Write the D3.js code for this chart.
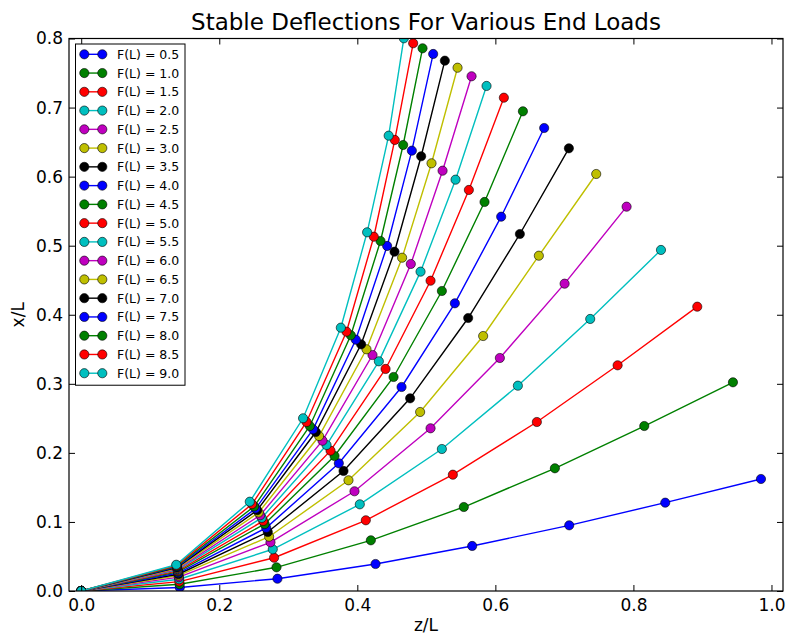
<!DOCTYPE html>
<html>
<head>
<meta charset="utf-8">
<script src="https://cdn.jsdelivr.net/npm/d3@7"></script>
<style>
  html, body { margin: 0; padding: 0; background: #ffffff; }
  svg { display: block; font-family: "DejaVu Sans", sans-serif; }
</style>
</head>
<body>
<svg id="chart" width="792" height="637"></svg>
<script>
// End loads F(L), one curve per load
const loads = [0.5, 1.0, 1.5, 2.0, 2.5, 3.0, 3.5, 4.0, 4.5, 5.0, 5.5, 6.0, 6.5, 7.0, 7.5, 8.0, 8.5, 9.0];

// z/L of the 8 nodes along the beam, one row per load
const zNodes = [
  [0, 0.1428, 0.2843, 0.4264, 0.5664, 0.7070, 0.8461, 0.9848],
  [0, 0.1426, 0.2829, 0.4196, 0.5543, 0.6862, 0.8157, 0.9442],
  [0, 0.1422, 0.2794, 0.4123, 0.5384, 0.6601, 0.7771, 0.8925],
  [0, 0.1419, 0.2775, 0.4036, 0.5225, 0.6326, 0.7374, 0.8399],
  [0, 0.1415, 0.2742, 0.3959, 0.5061, 0.6065, 0.7003, 0.7901],
  [0, 0.1411, 0.2722, 0.3872, 0.4910, 0.5823, 0.6630, 0.7461],
  [0, 0.1408, 0.2703, 0.3800, 0.4765, 0.5606, 0.6355, 0.7065],
  [0, 0.1405, 0.2680, 0.3732, 0.4641, 0.5413, 0.6084, 0.6707],
  [0, 0.1402, 0.2658, 0.3670, 0.4525, 0.5225, 0.5843, 0.6399],
  [0, 0.1399, 0.2637, 0.3612, 0.4409, 0.5061, 0.5616, 0.6123],
  [0, 0.1396, 0.2615, 0.3554, 0.4312, 0.4916, 0.5423, 0.5872],
  [0, 0.1393, 0.2593, 0.3496, 0.4220, 0.4775, 0.5235, 0.5655],
  [0, 0.1390, 0.2571, 0.3446, 0.4133, 0.4649, 0.5075, 0.5452],
  [0, 0.1388, 0.2549, 0.3399, 0.4055, 0.4539, 0.4925, 0.5268],
  [0, 0.1386, 0.2527, 0.3359, 0.3978, 0.4432, 0.4790, 0.5099],
  [0, 0.1383, 0.2505, 0.3312, 0.3906, 0.4336, 0.4664, 0.4945],
  [0, 0.1380, 0.2475, 0.3264, 0.3843, 0.4239, 0.4543, 0.4809],
  [0, 0.1377, 0.2442, 0.3214, 0.3761, 0.4142, 0.4454, 0.4674]
];

// x/L deflection of the same nodes
const xNodes = [
  [0, 0.0051, 0.0178, 0.0391, 0.0652, 0.0951, 0.1279, 0.1622],
  [0, 0.0097, 0.0343, 0.0734, 0.1216, 0.1777, 0.2389, 0.3022],
  [0, 0.0136, 0.0482, 0.1024, 0.1684, 0.2447, 0.3268, 0.4117],
  [0, 0.0171, 0.0604, 0.1255, 0.2056, 0.2973, 0.3939, 0.4938],
  [0, 0.0200, 0.0705, 0.1444, 0.2356, 0.3374, 0.4450, 0.5565],
  [0, 0.0223, 0.0786, 0.1603, 0.2592, 0.3692, 0.4855, 0.6038],
  [0, 0.0243, 0.0854, 0.1738, 0.2790, 0.3953, 0.5169, 0.6410],
  [0, 0.0260, 0.0914, 0.1849, 0.2954, 0.4166, 0.5420, 0.6704],
  [0, 0.0277, 0.0970, 0.1955, 0.3099, 0.4344, 0.5633, 0.6946],
  [0, 0.0291, 0.1014, 0.2032, 0.3215, 0.4493, 0.5807, 0.7143],
  [0, 0.0305, 0.1059, 0.2114, 0.3326, 0.4624, 0.5956, 0.7313],
  [0, 0.0317, 0.1097, 0.2176, 0.3417, 0.4735, 0.6086, 0.7453],
  [0, 0.0329, 0.1136, 0.2244, 0.3500, 0.4826, 0.6193, 0.7577],
  [0, 0.0340, 0.1170, 0.2302, 0.3572, 0.4913, 0.6295, 0.7679],
  [0, 0.0348, 0.1194, 0.2341, 0.3639, 0.4996, 0.6376, 0.7776],
  [0, 0.0358, 0.1224, 0.2389, 0.3703, 0.5068, 0.6458, 0.7858],
  [0, 0.0369, 0.1258, 0.2447, 0.3755, 0.5130, 0.6531, 0.7931],
  [0, 0.0380, 0.1293, 0.2501, 0.3813, 0.5194, 0.6593, 0.8003]
];

const xTicks = [0.0, 0.2, 0.4, 0.6, 0.8, 1.0];
const yTicks = [0.0, 0.1, 0.2, 0.3, 0.4, 0.5, 0.6, 0.7, 0.8];
const palette = ["#0000ff", "#008000", "#ff0000", "#00bfbf", "#bf00bf", "#bfbf00", "#000000"];

const svg = d3.select("#chart");
const plot = { left: 69, top: 38.5, right: 783, bottom: 591 };

const x = d3.scaleLinear().domain([-0.0177, 1.0167]).range([plot.left, plot.right]);
const y = d3.scaleLinear().domain([0, 0.8]).range([plot.bottom, plot.top]);
const color = i => palette[i % palette.length];

svg.append("defs").append("clipPath").attr("id", "plot-clip")
  .append("rect")
  .attr("x", plot.left).attr("y", plot.top)
  .attr("width", plot.right - plot.left).attr("height", plot.bottom - plot.top);

// Curves: each load draws its line, then its node markers
const layer = svg.append("g").attr("clip-path", "url(#plot-clip)");
const line = d3.line().x(d => x(d[0])).y(d => y(d[1]));

loads.forEach((F, i) => {
  const pts = zNodes[i].map((z, k) => [z, xNodes[i][k]]);
  const g = layer.append("g");
  g.append("path")
    .attr("d", line(pts))
    .attr("fill", "none")
    .attr("stroke", color(i))
    .attr("stroke-width", 1.4);
  g.selectAll("circle").data(pts).enter().append("circle")
    .attr("cx", d => x(d[0]))
    .attr("cy", d => y(d[1]))
    .attr("r", 4.6)
    .attr("fill", color(i))
    .attr("stroke", "#000")
    .attr("stroke-width", 0.6);
});

// Axes with inward ticks on all four sides
const tickLen = 6;
const axisBottom = d3.axisBottom(x).tickValues(xTicks).tickFormat(d3.format(".1f"))
  .tickSizeInner(-tickLen).tickSizeOuter(0).tickPadding(8);
const axisTop = d3.axisTop(x).tickValues(xTicks).tickFormat("")
  .tickSizeInner(-tickLen).tickSizeOuter(0);
const axisLeft = d3.axisLeft(y).tickValues(yTicks).tickFormat(d3.format(".1f"))
  .tickSizeInner(-tickLen).tickSizeOuter(0).tickPadding(6);
const axisRight = d3.axisRight(y).tickValues(yTicks).tickFormat("")
  .tickSizeInner(-tickLen).tickSizeOuter(0);

function styleAxis(g) {
  g.select(".domain").remove();
  g.selectAll(".tick line").attr("stroke", "#000").attr("stroke-width", 1);
  g.selectAll(".tick text").attr("fill", "#000")
    .style("font-family", "'DejaVu Sans', sans-serif").style("font-size", "17px");
}

svg.append("g").attr("transform", `translate(0,${plot.bottom})`).call(axisBottom).call(styleAxis);
svg.append("g").attr("transform", `translate(0,${plot.top})`).call(axisTop).call(styleAxis);
svg.append("g").attr("transform", `translate(${plot.left},0)`).call(axisLeft).call(styleAxis);
svg.append("g").attr("transform", `translate(${plot.right},0)`).call(axisRight).call(styleAxis);

// Frame
svg.append("rect")
  .attr("x", plot.left).attr("y", plot.top)
  .attr("width", plot.right - plot.left).attr("height", plot.bottom - plot.top)
  .attr("fill", "none").attr("stroke", "#000").attr("stroke-width", 1.2);

// Title and axis labels
const cx = (plot.left + plot.right) / 2;
svg.append("text").attr("x", cx).attr("y", 30)
  .attr("text-anchor", "middle").style("font-size", "23px")
  .text("Stable Deflections For Various End Loads");
svg.append("text").attr("x", cx).attr("y", 631)
  .attr("text-anchor", "middle").style("font-size", "17px")
  .text("z/L");
svg.append("text")
  .attr("transform", `translate(24,${(plot.top + plot.bottom) / 2}) rotate(-90)`)
  .attr("text-anchor", "middle").style("font-size", "17px")
  .text("x/L");

// Legend
const legend = svg.append("g");
const lg = { left: 75.5, top: 44, width: 109.5, rowH: 18.76, firstRow: 54.3 };
legend.append("rect")
  .attr("x", lg.left).attr("y", lg.top)
  .attr("width", lg.width).attr("height", lg.firstRow - lg.top + (loads.length - 1) * lg.rowH + 12)
  .attr("fill", "#fff").attr("stroke", "#000").attr("stroke-width", 1);

loads.forEach((F, i) => {
  const yy = lg.firstRow + i * lg.rowH;
  const row = legend.append("g");
  row.append("line")
    .attr("x1", 84.3).attr("x2", 102.3).attr("y1", yy).attr("y2", yy)
    .attr("stroke", color(i)).attr("stroke-width", 1.4);
  [84.3, 102.3].forEach(px => {
    row.append("circle").attr("cx", px).attr("cy", yy).attr("r", 4.6)
      .attr("fill", color(i)).attr("stroke", "#000").attr("stroke-width", 0.6);
  });
  row.append("text").attr("x", 117).attr("y", yy + 4.5)
    .style("font-size", "12.5px")
    .text(`F(L) = ${F.toFixed(1)}`);
});
</script>
</body>
</html>
